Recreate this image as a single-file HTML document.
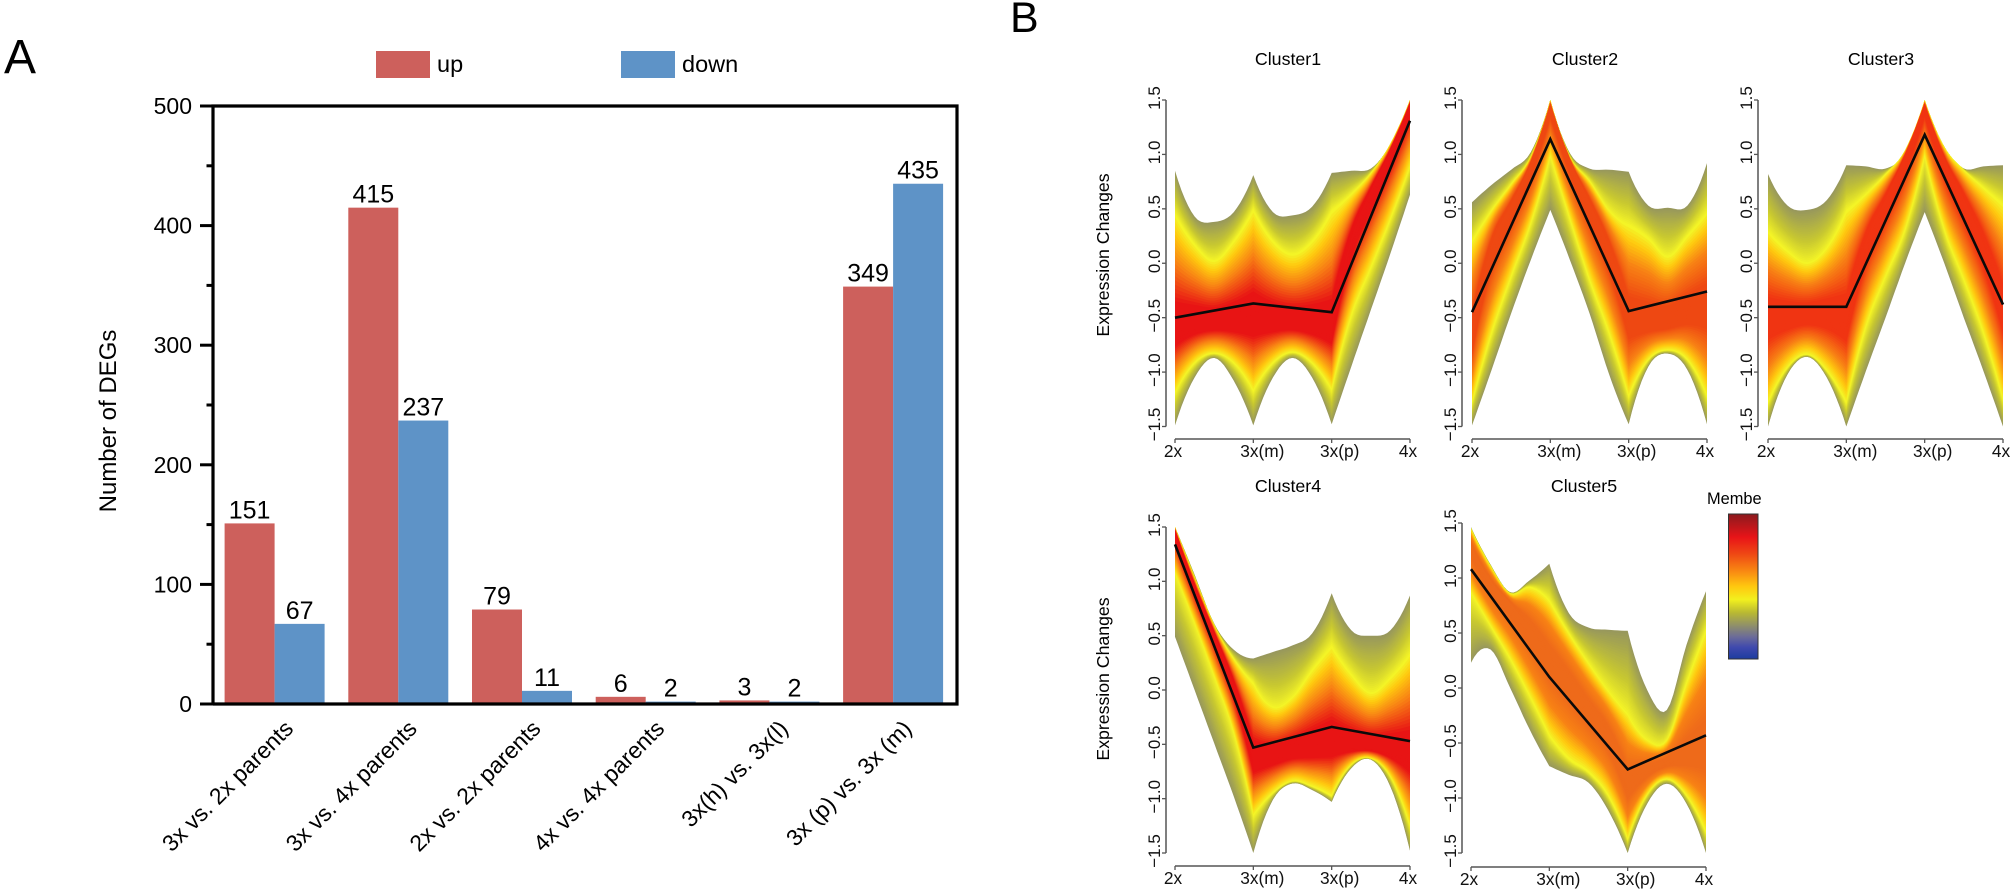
<!DOCTYPE html>
<html lang="en">
<head>
<meta charset="utf-8">
<title>DEG counts and expression clusters</title>
<style>
html,body{margin:0;padding:0;background:#fff;width:2014px;height:890px;overflow:hidden}
svg{display:block;font-family:"Liberation Sans",Arial,sans-serif}
</style>
</head>
<body>
<svg id="figure" width="2014" height="890" viewBox="0 0 2014 890" xmlns="http://www.w3.org/2000/svg">
  <defs>
    <linearGradient id="membership-gradient" x1="0" y1="0" x2="0" y2="1">
      <stop offset="0" stop-color="#8b1a1e"/>
      <stop offset="0.16" stop-color="#e81418"/>
      <stop offset="0.28" stop-color="#ef4a14"/>
      <stop offset="0.40" stop-color="#f98c12"/>
      <stop offset="0.50" stop-color="#ffc80f"/>
      <stop offset="0.59" stop-color="#f2f01e"/>
      <stop offset="0.68" stop-color="#b9b932"/>
      <stop offset="0.77" stop-color="#8f8f6a"/>
      <stop offset="0.85" stop-color="#6a6a9a"/>
      <stop offset="0.92" stop-color="#3f49ae"/>
      <stop offset="1" stop-color="#1c3c9f"/>
    </linearGradient>
  </defs>
  <text x="4" y="73" font-size="48">A</text>
  <text x="1010" y="32" font-size="43">B</text>
  <g>
    <rect x="376" y="51" width="54" height="27" fill="#cd605c"/>
    <text x="437" y="72" font-size="23.5">up</text>
    <rect x="621" y="51" width="54" height="27" fill="#5e93c7"/>
    <text x="682" y="72" font-size="23.5">down</text>
  </g>
  <text transform="translate(116,421) rotate(-90)" text-anchor="middle" font-size="24">Number of DEGs</text>
  <g id="bar-chart"></g>
  <g id="clusters"></g>
  <text transform="translate(1109,255) rotate(-90)" text-anchor="middle" font-size="17.7">Expression Changes</text>
  <text transform="translate(1109,679) rotate(-90)" text-anchor="middle" font-size="17.7">Expression Changes</text>
  <g>
    <rect x="1728.5" y="514" width="29.5" height="145" fill="url(#membership-gradient)" stroke="#333" stroke-width="1"/>
    <text x="1707" y="504" font-size="16.4">Membe</text>
  </g>
</svg>
<script>
const barCategories = ["3x vs. 2x parents", "3x vs. 4x parents", "2x vs. 2x parents", "4x vs. 4x parents", "3x(h) vs. 3x(l)", "3x (p) vs. 3x (m)"];
const upValues = [151, 415, 79, 6, 3, 349];
const downValues = [67, 237, 11, 2, 2, 435];
const barMajorTicks = [0, 100, 200, 300, 400, 500];
const barMinorTicks = [50, 150, 250, 350, 450];

const conditionLabels = ["2x", "3x(m)", "3x(p)", "4x"];
const expressionTicks = [-1.5, -1, -0.5, 0, 0.5, 1, 1.5];
const expressionTickLabels = ["\u22121.5", "\u22121.0", "\u22120.5", "0.0", "0.5", "1.0", "1.5"];
const envelopeStops = [0, 0.25, 0.5, 0.75, 1, 1.25, 1.5, 1.75, 2, 2.25, 2.5, 2.75, 3];

const cluster1Upper = [0.85, 0.43, 0.38, 0.47, 0.81, 0.47, 0.44, 0.52, 0.83, 0.85, 0.87, 1.09, 1.5];
const cluster1UpperYellow = [0.46, 0.18, 0.03, 0.21, 0.5, 0.21, 0.09, 0.21, 0.49, 0.64, 0.83, 1.1, 1.5];
const cluster1Core = [-0.62, -0.57, -0.55, -0.54, -0.51, -0.54, -0.55, -0.57, -0.6, 0.21, 0.66, 1.04, 1.47];
const cluster1LowerYellow = [-1.2, -0.92, -0.83, -0.92, -1.18, -0.92, -0.82, -0.92, -1.17, -0.49, -0.05, 0.4, 0.88];
const cluster1Lower = [-1.49, -1.05, -0.87, -1.08, -1.49, -1.05, -0.87, -1.05, -1.48, -0.95, -0.43, 0.09, 0.63];
const cluster1Mean = [-0.5, -0.37, -0.45, 1.31];

const cluster2Upper = [0.56, 0.72, 0.86, 1.02, 1.5, 1.01, 0.87, 0.86, 0.84, 0.53, 0.51, 0.53, 0.92];
const cluster2UpperYellow = [0.21, 0.49, 0.73, 0.98, 1.5, 0.98, 0.76, 0.49, 0.36, 0.24, 0.07, 0.26, 0.47];
const cluster2Core = [-0.68, 0.15, 0.53, 0.92, 1.46, 0.95, 0.55, 0.12, -0.52, -0.55, -0.54, -0.46, -0.4];
const cluster2LowerYellow = [-1.29, -0.65, -0.13, 0.36, 0.98, 0.4, -0.16, -0.65, -1.23, -0.89, -0.8, -0.89, -1.23];
const cluster2Lower = [-1.49, -0.98, -0.46, 0.03, 0.49, 0.03, -0.46, -1.02, -1.48, -0.95, -0.83, -0.98, -1.48];
const cluster2Mean = [-0.45, 1.14, -0.44, -0.26];

const cluster3Upper = [0.82, 0.53, 0.49, 0.58, 0.9, 0.89, 0.87, 1.01, 1.5, 1.07, 0.87, 0.89, 0.9];
const cluster3UpperYellow = [0.3, 0.12, 0.01, 0.15, 0.49, 0.64, 0.82, 1.04, 1.5, 1.07, 0.86, 0.7, 0.55];
const cluster3Core = [-0.51, -0.5, -0.48, -0.48, -0.53, 0.18, 0.58, 0.99, 1.46, 0.96, 0.58, 0.15, -0.43];
const cluster3LowerYellow = [-1.29, -0.96, -0.84, -0.99, -1.29, -0.59, -0.13, 0.3, 0.98, 0.3, -0.16, -0.65, -1.26];
const cluster3Lower = [-1.5, -1.02, -0.86, -1.05, -1.5, -0.99, -0.5, 0, 0.47, 0, -0.5, -0.99, -1.5];
const cluster3Mean = [-0.4, -0.4, 1.18, -0.38];

const cluster4Upper = [1.5, 1.06, 0.61, 0.37, 0.29, 0.35, 0.41, 0.52, 0.89, 0.55, 0.5, 0.55, 0.87];
const cluster4UpperYellow = [1.5, 1.04, 0.6, 0.29, 0.07, -0.15, -0.06, 0.19, 0.41, 0.15, -0.02, 0.12, 0.34];
const cluster4Core = [1.47, 0.96, 0.52, 0.03, -0.63, -0.61, -0.57, -0.54, -0.5, -0.53, -0.54, -0.57, -0.6];
const cluster4LowerYellow = [1.07, 0.61, 0.12, -0.4, -1.16, -0.95, -0.84, -0.89, -0.98, -0.69, -0.63, -0.8, -1.26];
const cluster4Lower = [0.49, 0, -0.49, -0.98, -1.5, -1.01, -0.86, -0.92, -1.03, -0.72, -0.64, -0.89, -1.48];
const cluster4Mean = [1.34, -0.53, -0.34, -0.47];

const cluster5Upper = [1.46, 1.12, 0.87, 0.98, 1.13, 0.68, 0.55, 0.53, 0.52, -0.02, -0.2, 0.39, 0.88];
const cluster5UpperYellow = [1.45, 1.11, 0.86, 0.92, 0.8, 0.5, 0.23, -0.02, -0.23, -0.47, -0.47, 0.05, 0.53];
const cluster5Core = [1.29, 0.97, 0.77, 0.53, 0.26, 0.05, -0.2, -0.44, -0.89, -0.76, -0.68, -0.62, -0.56];
const cluster5LowerYellow = [0.86, 0.56, 0.26, -0.08, -0.44, -0.65, -0.77, -0.98, -1.38, -0.97, -0.83, -0.98, -1.32];
const cluster5Lower = [0.23, 0.35, 0, -0.38, -0.71, -0.79, -0.86, -1.11, -1.5, -1.05, -0.87, -1.05, -1.5];
const cluster5Mean = [1.08, 0.1, -0.74, -0.43];

const NS = "http://www.w3.org/2000/svg";
function make(tag, parent, props) {
  const node = document.createElementNS(NS, tag);
  for (const key in props) node.setAttribute(key, props[key]);
  parent.appendChild(node);
  return node;
}

/* ---------- Panel A: grouped bars ---------- */
const barPlot = { left: 213, right: 957, top: 106, bottom: 704, max: 500, firstBar: 224.6, groupStep: 123.7, barWidth: 50 };
function barY(v) { return barPlot.bottom - (v / barPlot.max) * (barPlot.bottom - barPlot.top); }
function barGroupX(i) { return barPlot.firstBar + i * barPlot.groupStep; }

function drawBarChart() {
  const root = document.getElementById("bar-chart");
  const drawPair = function (values, offset, fill, series) {
    values.forEach(function (v, i) {
      const x = barGroupX(i) + offset;
      const rect = make("rect", root, { x: x, y: barY(v), width: barPlot.barWidth, height: barPlot.bottom - barY(v), fill: fill });
      
      
      const label = make("text", root, { x: x + barPlot.barWidth / 2, y: barY(v) - 5, "text-anchor": "middle", "font-size": 25 });
      label.textContent = v;
      
      
    });
  };
  drawPair(upValues, 0, "#cd605c", "up");
  drawPair(downValues, barPlot.barWidth, "#5e93c7", "down");

  const frame = make("path", root, {
    d: "M" + barPlot.left + " " + barPlot.bottom + "V" + barPlot.top + "H" + barPlot.right + "V" + barPlot.bottom + "H" + barPlot.left,
    fill: "none", stroke: "#000", "stroke-width": 3.2
  });
  
  

  barMajorTicks.forEach(function (v) {
    const y = barY(v);
    const tick = make("line", root, { x1: barPlot.left - 13, x2: barPlot.left, y1: y, y2: y, stroke: "#000", "stroke-width": 3 });
    
    
    const label = make("text", root, { x: barPlot.left - 21, y: y + 8, "text-anchor": "end", "font-size": 23 });
    label.textContent = v;
    
    
  });
  barMinorTicks.forEach(function (v) {
    const y = barY(v);
    const tick = make("line", root, { x1: barPlot.left - 6.5, x2: barPlot.left, y1: y, y2: y, stroke: "#000", "stroke-width": 3 });
    
    
  });
  barCategories.forEach(function (name, i) {
    const ax = barGroupX(i) + barPlot.barWidth + 20;
    const ay = barPlot.bottom + 26;
    const label = make("text", root, { transform: "translate(" + ax + "," + ay + ") rotate(-45)", "text-anchor": "end", "font-size": 23 });
    label.textContent = name;
    
    
  });
}

/* ---------- Panel B: membership bands ---------- */
function smoothEnvelope(values) {
  const out = [];
  const sub = 6;
  for (let seg = 0; seg < 3; seg++) {
    const s = seg * 4;
    for (let i = s; i < s + 4; i++) {
      const p1 = values[i], p2 = values[i + 1];
      /* each category-to-category segment is smoothed on its own, extrapolating past its ends so cusps stay sharp */
      const p0 = i > s ? values[i - 1] : 3 * values[i] - 3 * values[i + 1] + values[i + 2];
      const p3 = i + 2 <= s + 4 ? values[i + 2] : 3 * values[i + 1] - 3 * values[i] + values[i - 1];
      for (let k = 0; k < sub; k++) {
        const t = k / sub;
        out.push({
          pos: envelopeStops[i] + t * (envelopeStops[i + 1] - envelopeStops[i]),
          v: 0.5 * (2 * p1 + (p2 - p0) * t + (2 * p0 - 5 * p1 + 4 * p2 - p3) * t * t + (3 * p1 - p0 - 3 * p2 + p3) * t * t * t)
        });
      }
    }
  }
  out.push({ pos: envelopeStops[12], v: values[12] });
  return out;
}
function mixColour(a, b, t) {
  return a.map(function (c, i) { return Math.round(c + (b[i] - c) * t); });
}
function bandColour(f, peak) {
  const ramp = [[0, peak], [0.13, peak], [0.3, [248, 130, 20]], [0.42, [255, 200, 15]], [0.5, [244, 244, 38]], [0.7, [200, 200, 48]], [1, [152, 152, 92]]];
  for (let i = 1; i < ramp.length; i++) {
    if (f <= ramp[i][0]) {
      const c = mixColour(ramp[i - 1][1], ramp[i][1], (f - ramp[i - 1][0]) / (ramp[i][0] - ramp[i - 1][0]));
      return "rgb(" + c.join(",") + ")";
    }
  }
  return "rgb(152,152,92)";
}
function drawCluster(title, box, peak, upper, upperYellow, core, lowerYellow, lower, mean) {
  const root = document.getElementById("clusters");
  const g = make("g", root, {});
  
  

  const xOf = function (pos) { return box.x0 + (pos / 3) * box.w; };
  const yOf = function (v) { return box.bottom - ((v + 1.5) / 3) * (box.bottom - box.top); };

  const U = smoothEnvelope(upper), YU = smoothEnvelope(upperYellow), C = smoothEnvelope(core), YL = smoothEnvelope(lowerYellow), L = smoothEnvelope(lower);
  const iso = function (f, yellow, edge, j) {
    const c = C[j].v;
    return f <= 0.5 ? c + (yellow[j].v - c) * (f / 0.5) : yellow[j].v + (edge[j].v - yellow[j].v) * ((f - 0.5) / 0.5);
  };
  const levels = 56;
  for (let l = levels; l >= 1; l--) {
    const f = l / levels;
    const top = [], bottom = [];
    for (let j = 0; j < U.length; j++) {
      top.push(xOf(U[j].pos).toFixed(1) + "," + yOf(iso(f, YU, U, j)).toFixed(1));
      bottom.unshift(xOf(U[j].pos).toFixed(1) + "," + yOf(iso(f, YL, L, j)).toFixed(1));
    }
    const band = make("polygon", g, { points: top.concat(bottom).join(" "), fill: bandColour(f, peak) });
    
    
  }

  const meanPoints = mean.map(function (v, i) { return xOf(i).toFixed(1) + "," + yOf(v).toFixed(1); }).join(" ");
  const meanLine = make("polyline", g, { points: meanPoints, fill: "none", stroke: "#0a0a0a", "stroke-width": 2.6 });
  
  

  const yAxis = make("line", g, { x1: box.axisX, x2: box.axisX, y1: yOf(-1.5), y2: yOf(1.5), stroke: "#555", "stroke-width": 1.5 });
  
  
  expressionTicks.forEach(function (v, i) {
    const y = yOf(v);
    const tick = make("line", g, { x1: box.axisX - 4, x2: box.axisX, y1: y, y2: y, stroke: "#555", "stroke-width": 1.3 });
    
    
    const label = make("text", g, { transform: "translate(" + (box.axisX - 6) + "," + (y - 2) + ") rotate(-90)", "text-anchor": "middle", "font-size": 17, fill: "#111" });
    label.textContent = expressionTickLabels[i];
    
    
  });

  const xAxis = make("line", g, { x1: xOf(0), x2: xOf(3), y1: box.axisY, y2: box.axisY, stroke: "#555", "stroke-width": 1.5 });
  
  
  const nudge = [-2, 9, 8, -2];
  conditionLabels.forEach(function (name, i) {
    const x = xOf(i);
    const tick = make("line", g, { x1: x, x2: x, y1: box.axisY, y2: box.axisY + 4, stroke: "#555", "stroke-width": 1.3 });
    
    
    const label = make("text", g, { x: x + nudge[i], y: box.axisY + 18, "text-anchor": "middle", "font-size": 17.3, fill: "#111" });
    label.textContent = name;
    
    
  });

  const heading = make("text", g, { x: box.x0 + 113, y: box.titleY, "text-anchor": "middle", "font-size": 17.8 });
  heading.textContent = title;
  
  
}

drawBarChart();
drawCluster("Cluster1", { x0: 1175, w: 235, top: 100, bottom: 426.5, axisX: 1166, axisY: 439, titleY: 65 }, [232, 20, 20], cluster1Upper, cluster1UpperYellow, cluster1Core, cluster1LowerYellow, cluster1Lower, cluster1Mean);
drawCluster("Cluster2", { x0: 1472, w: 235, top: 100, bottom: 426.5, axisX: 1462, axisY: 439, titleY: 65 }, [238, 72, 18], cluster2Upper, cluster2UpperYellow, cluster2Core, cluster2LowerYellow, cluster2Lower, cluster2Mean);
drawCluster("Cluster3", { x0: 1768, w: 235, top: 100, bottom: 426.5, axisX: 1758, axisY: 439, titleY: 65 }, [240, 52, 18], cluster3Upper, cluster3UpperYellow, cluster3Core, cluster3LowerYellow, cluster3Lower, cluster3Mean);
drawCluster("Cluster4", { x0: 1175, w: 235, top: 527, bottom: 853, axisX: 1166, axisY: 866, titleY: 492 }, [232, 20, 20], cluster4Upper, cluster4UpperYellow, cluster4Core, cluster4LowerYellow, cluster4Lower, cluster4Mean);
drawCluster("Cluster5", { x0: 1471, w: 235, top: 523, bottom: 853, axisX: 1462, axisY: 867, titleY: 492 }, [238, 106, 26], cluster5Upper, cluster5UpperYellow, cluster5Core, cluster5LowerYellow, cluster5Lower, cluster5Mean);
</script>
</body>
</html>
